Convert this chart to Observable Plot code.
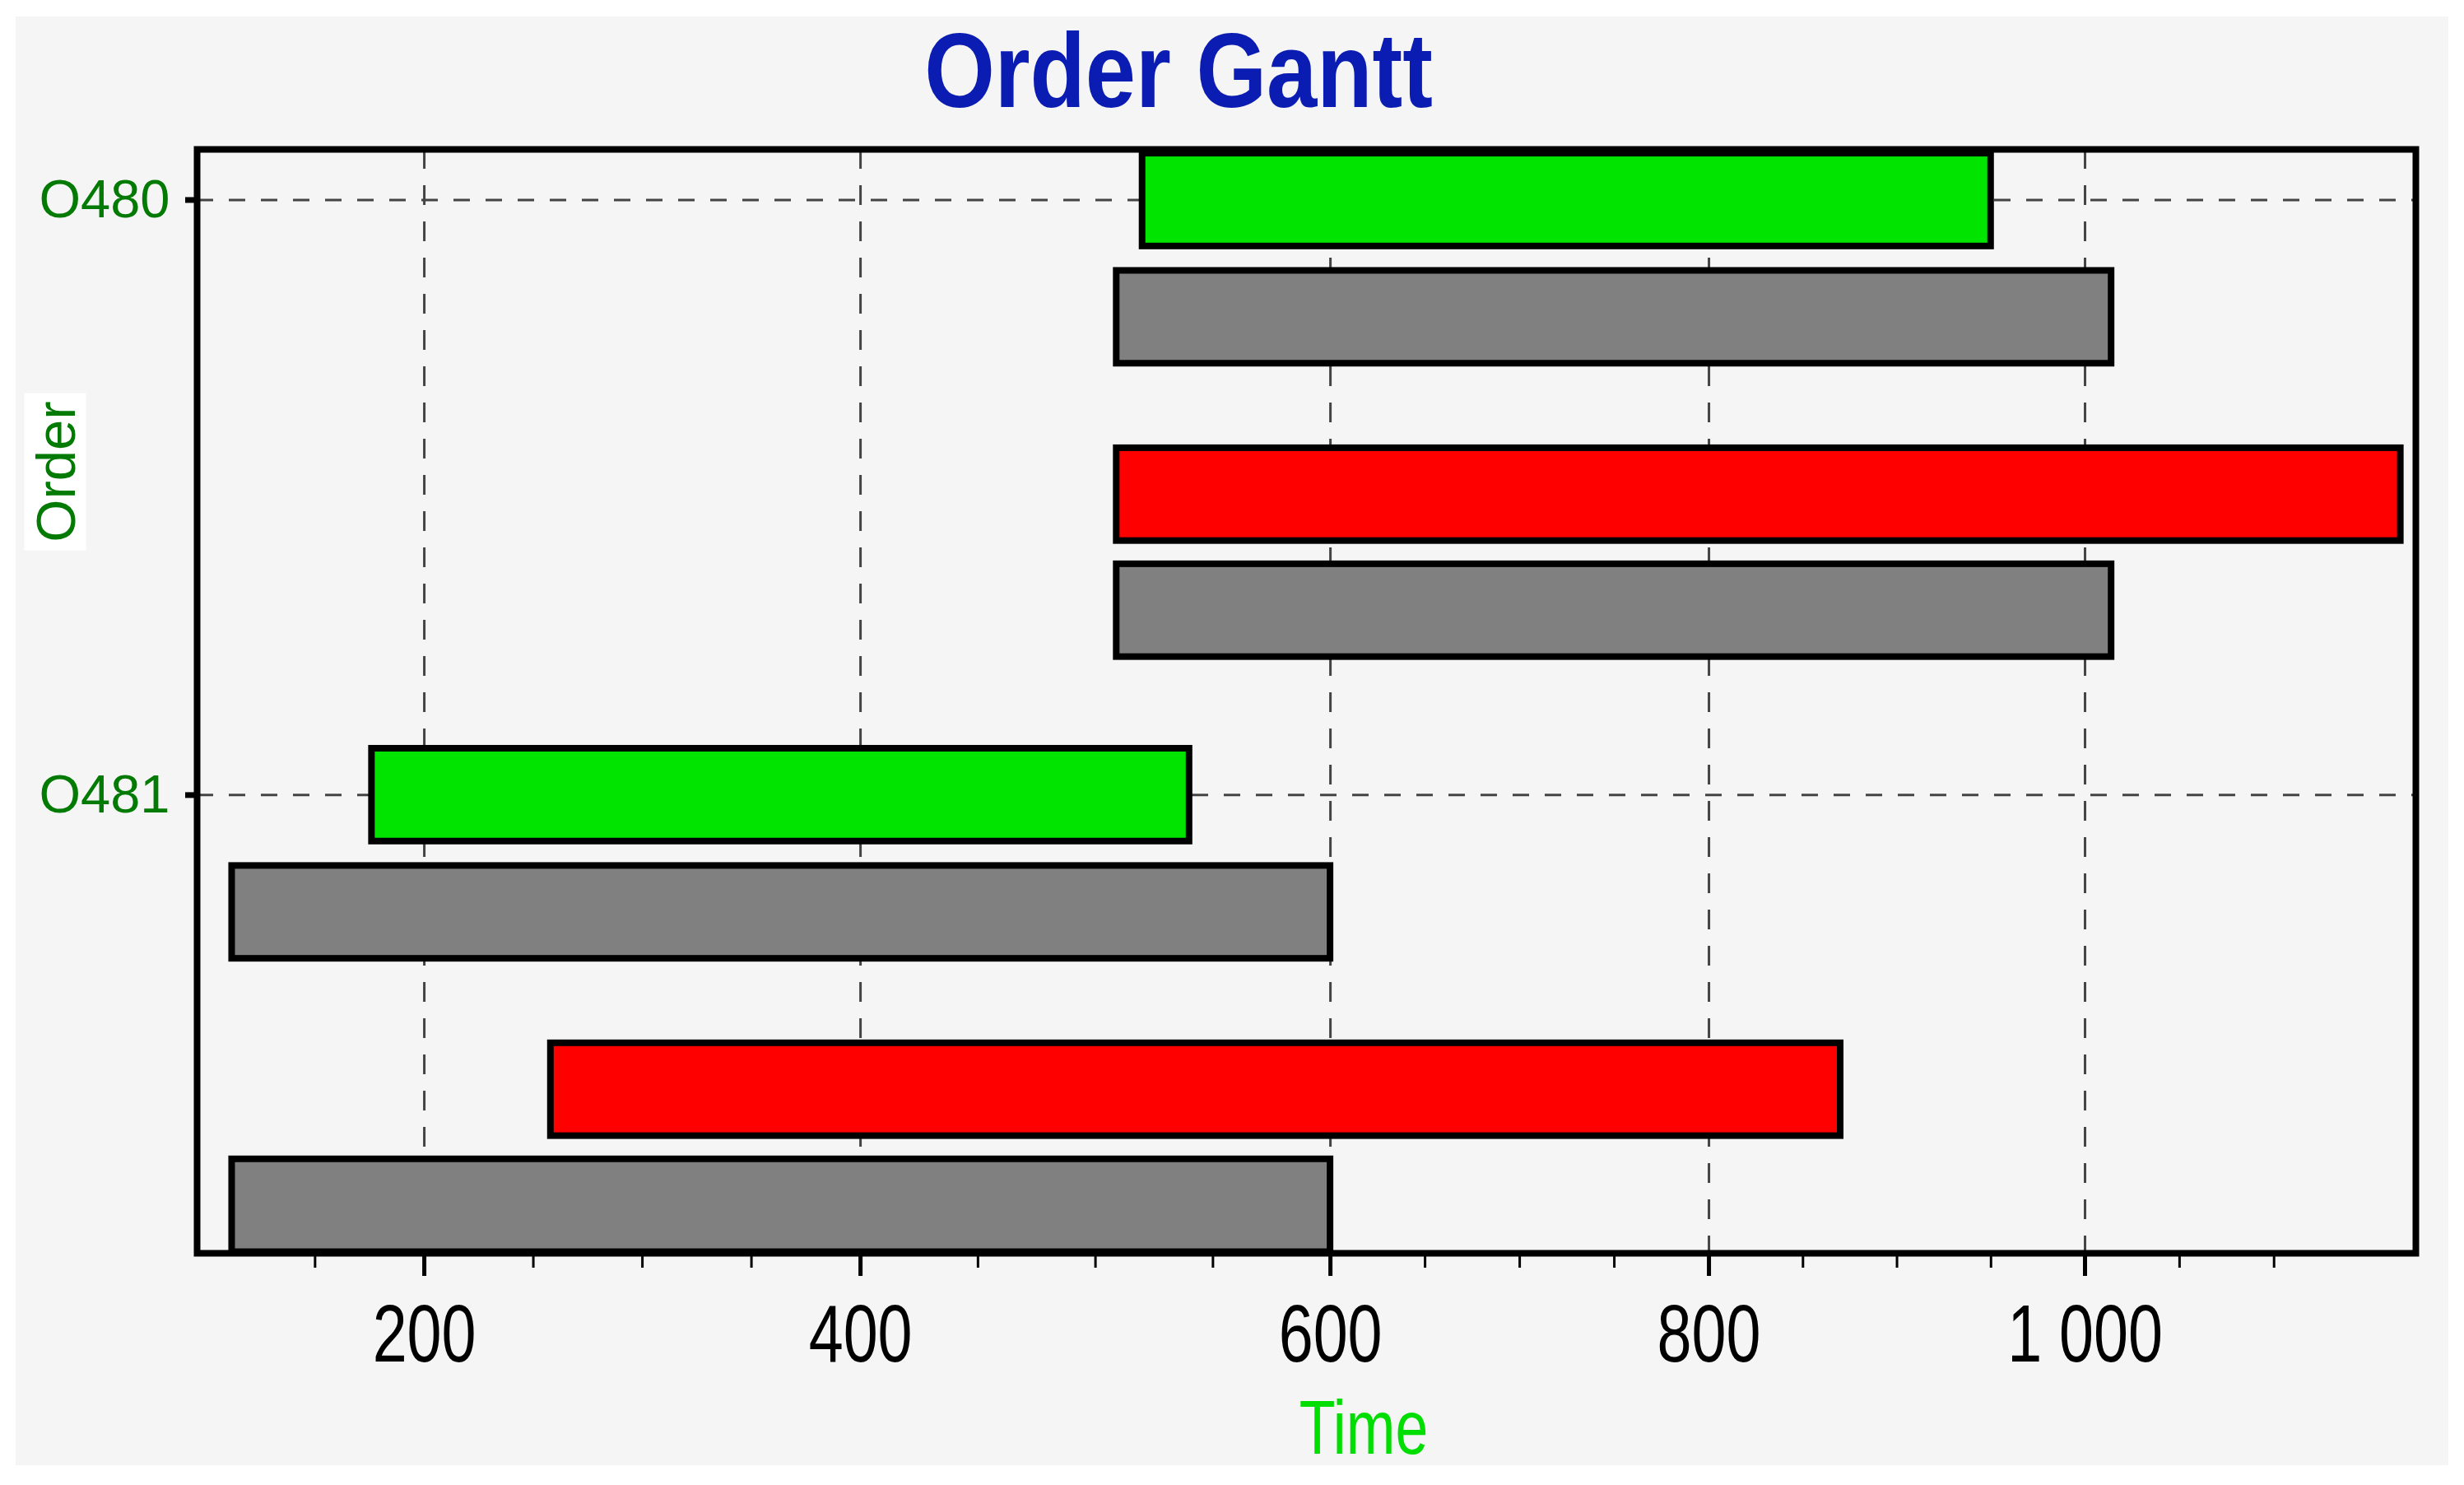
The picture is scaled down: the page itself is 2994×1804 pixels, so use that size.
<!DOCTYPE html>
<html><head><meta charset="utf-8">
<script src="https://cdn.jsdelivr.net/npm/d3@7"></script>
<script src="https://cdn.jsdelivr.net/npm/@observablehq/plot@0.6"></script>
<style>
html,body{margin:0;padding:0;background:#fff;}
#wrap{position:relative;width:2994px;height:1804px;overflow:hidden;font-family:"Liberation Sans",Arial,sans-serif;}
#panel{position:absolute;left:19px;top:20px;width:2956px;height:1760px;background:#f5f5f5;}
#chart{position:absolute;left:0;top:0;}
.lbl{position:absolute;white-space:nowrap;line-height:1;}
#title{left:1432px;top:22px;font-size:128px;font-weight:bold;color:#0a1cb2;transform:translateX(-50%) scaleX(0.86);}
#ylabel{left:67px;top:573px;font-size:67px;color:#037a03;background:#fff;padding:4px 10px;transform:translate(-50%,-50%) rotate(-90deg);}
#xlabel{left:1657px;top:1688px;font-size:93px;color:#00dd00;transform:translateX(-50%) scaleX(0.77);}
</style></head><body>
<div id="wrap"><div id="panel"></div><div id="chart"></div>
<div id="title" class="lbl">Order Gantt</div>
<div id="ylabel" class="lbl">Order</div>
<div id="xlabel" class="lbl">Time</div>
</div>
<script>
// ---- data ----
const orders = ["O480", "O481"];
const taskOrder  = ["O480", "O480", "O480", "O480", "O481", "O481", "O481", "O481"];
const taskLane   = [0, 1, 2, 3, 0, 1, 2, 3];
const taskStatus = ["actual", "planned", "late", "planned", "actual", "planned", "late", "planned"];
const taskStart  = [520, 509, 509, 509, 176, 112, 258, 112];
const taskEnd    = [950, 1014, 1167, 1014, 540, 600, 870, 600];
const majorTicks = [200, 400, 600, 800, 1000];
const minorTicks = [150, 250, 300, 350, 450, 500, 550, 650, 700, 750, 850, 900, 950, 1050, 1100];
const statusNames = ["actual", "planned", "late"];

// ---- layout ----
const laneOffset = [0, 0.197, 0.495, 0.69];
const half = 0.078;
const tasks = taskOrder.map((o, i) => ({
  order: o, lane: taskLane[i], status: taskStatus[i], start: taskStart[i], end: taskEnd[i]
}));
const pos = d => orders.indexOf(d.order) + laneOffset[d.lane];

// piecewise time axis (the reference axis is not evenly spaced)
const warp = d3.scaleLinear()
  .domain([96, 200, 400, 600, 800, 1000, 1175])
  .range([0, 0.1024, 0.2990, 0.5108, 0.6814, 0.8509, 1]);

const chart = Plot.plot({
  width: 2994, height: 1804,
  marginLeft: 239, marginRight: 59, marginTop: 181, marginBottom: 282,
  style: {background: "transparent", fontFamily: "Liberation Sans, Arial, sans-serif"},
  x: {transform: warp, domain: [0, 1]},
  y: {domain: [-0.085, 1.77], reverse: true},
  color: {domain: statusNames, range: ["#00e400", "#808080", "#ff0000"]},
  marks: [
    Plot.gridX(majorTicks, {stroke: "#444", strokeOpacity: 1, strokeWidth: 3, strokeDasharray: "24,20"}),
    Plot.gridY([0, 1], {stroke: "#444", strokeOpacity: 1, strokeWidth: 3, strokeDasharray: "20,19"}),
    Plot.rect(tasks, {
      x1: "start", x2: "end",
      y1: d => pos(d) - half, y2: d => pos(d) + half,
      fill: "status", stroke: "black", strokeWidth: 8
    }),
    Plot.frame({stroke: "black", strokeWidth: 8}),
    Plot.axisX(minorTicks, {tickSize: 18, strokeWidth: 3, stroke: "black", tickFormat: () => "", label: null}),
    Plot.axisX(majorTicks, {
      tickSize: 28, strokeWidth: 5, stroke: "black", tickPadding: 34, fill: "black",
      fontSize: 98, label: null,
      tickFormat: d => d >= 1000 ? d3.format(",")(d).replace(",", " ") : String(d)
    }),
    Plot.axisY([0, 1], {
      tickSize: 14, strokeWidth: 7, stroke: "black", tickPadding: 19, fill: "#037a03",
      fontSize: 65, label: null, tickFormat: i => orders[i]
    })
  ]
});
document.getElementById("chart").appendChild(chart);

function condense(t, s) {
  const tr = t.getAttribute("transform");
  if (tr && /translate/.test(tr)) t.setAttribute("transform", tr + ` scale(${s},1)`);
  else {
    const x = +t.getAttribute("x") || 0;
    t.setAttribute("transform", `translate(${x},0) scale(${s},1) translate(${-x},0)`);
  }
}
chart.querySelectorAll('g[aria-label="x-axis tick label"] text').forEach(t => condense(t, 0.77));
</script>
</body></html>
